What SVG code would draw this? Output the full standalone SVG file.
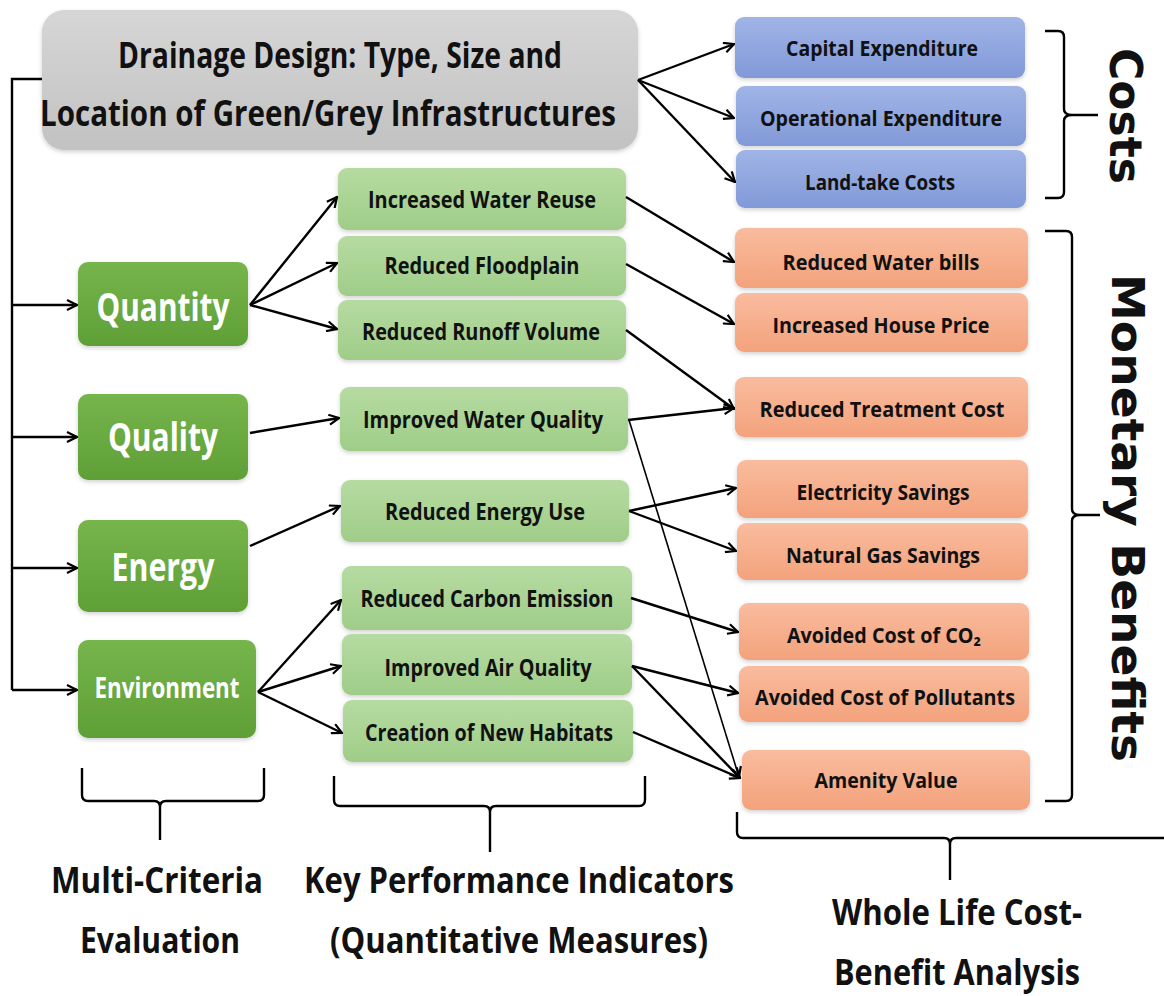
<svg xmlns="http://www.w3.org/2000/svg" width="1164" height="996" viewBox="0 0 1164 996">
<defs>
<linearGradient id="gGray" x1="0" y1="0" x2="0" y2="1"><stop offset="0" stop-color="#d6d6d6"/><stop offset="1" stop-color="#c2c2c2"/></linearGradient>
<linearGradient id="gDark" x1="0" y1="0" x2="0" y2="1"><stop offset="0" stop-color="#76b54c"/><stop offset="1" stop-color="#5f9f36"/></linearGradient>
<linearGradient id="gLight" x1="0" y1="0" x2="0" y2="1"><stop offset="0" stop-color="#b6dba2"/><stop offset="1" stop-color="#9fcd88"/></linearGradient>
<linearGradient id="gBlue" x1="0" y1="0" x2="0" y2="1"><stop offset="0" stop-color="#a0b4e6"/><stop offset="1" stop-color="#8199d8"/></linearGradient>
<linearGradient id="gOrange" x1="0" y1="0" x2="0" y2="1"><stop offset="0" stop-color="#f9bc9e"/><stop offset="1" stop-color="#f3a27c"/></linearGradient>
<filter id="sh" x="-10%" y="-10%" width="120%" height="130%"><feDropShadow dx="0" dy="2" stdDeviation="2" flood-color="#000" flood-opacity="0.18"/></filter>
<marker id="ah" viewBox="0 0 12 12" refX="11" refY="6" markerWidth="12" markerHeight="12" markerUnits="userSpaceOnUse" orient="auto">
<path d="M1,1 L11,6 L1,11" fill="none" stroke="#000" stroke-width="2.2"/>
</marker>
</defs>
<style>
text{font-family:"Open Sans","Liberation Sans",sans-serif;font-weight:bold;text-anchor:middle;fill:#111;}
.gray{fill:url(#gGray);filter:url(#sh);}
.dark{fill:url(#gDark);filter:url(#sh);}
.light{fill:url(#gLight);filter:url(#sh);}
.blue{fill:url(#gBlue);filter:url(#sh);}
.orange{fill:url(#gOrange);filter:url(#sh);}
.big{font-size:35px;}
.crit{font-size:40px;fill:#fff;}
.kpi{font-size:23px;}
.out{font-size:22px;}
.lab{font-size:36px;}
.side{font-family:"DejaVu Sans",sans-serif;font-size:44px;}
.conn path,.conn line{fill:none;stroke:#000;stroke-width:2.4;}
.conn .thin{stroke-width:1.6;}
.arr{marker-end:url(#ah);}
.brace{fill:none;stroke:#000;stroke-width:2.4;}
</style>

<g id="drainage-design">
<rect class="gray" x="42" y="10" width="596" height="140" rx="22"/>
<text class="big" x="340" y="68" textLength="444" lengthAdjust="spacingAndGlyphs">Drainage Design: Type, Size and</text>
<text class="big" x="328" y="126" textLength="576" lengthAdjust="spacingAndGlyphs">Location of Green/Grey Infrastructures</text>
</g>

<g id="quantity"><rect class="dark" x="78" y="262" width="170" height="84" rx="10"/><text class="crit" x="163" y="321" textLength="133" lengthAdjust="spacingAndGlyphs">Quantity</text></g>
<g id="quality"><rect class="dark" x="78" y="394" width="170" height="86" rx="10"/><text class="crit" x="163" y="451" textLength="110" lengthAdjust="spacingAndGlyphs">Quality</text></g>
<g id="energy"><rect class="dark" x="78" y="520" width="170" height="92" rx="10"/><text class="crit" x="163" y="581" textLength="103" lengthAdjust="spacingAndGlyphs">Energy</text></g>
<g id="environment"><rect class="dark" x="78" y="640" width="178" height="98" rx="10"/><text class="crit" style="font-size:28px" x="167" y="698" textLength="145" lengthAdjust="spacingAndGlyphs">Environment</text></g>

<g id="kpi-water-reuse"><rect class="light" x="338" y="168" width="288" height="62" rx="9"/><text class="kpi" x="482" y="208" textLength="228" lengthAdjust="spacingAndGlyphs">Increased Water Reuse</text></g>
<g id="kpi-floodplain"><rect class="light" x="338" y="236" width="288" height="60" rx="9"/><text class="kpi" x="482" y="274" textLength="195" lengthAdjust="spacingAndGlyphs">Reduced Floodplain</text></g>
<g id="kpi-runoff"><rect class="light" x="338" y="300" width="288" height="60" rx="9"/><text class="kpi" x="481" y="340" textLength="238" lengthAdjust="spacingAndGlyphs">Reduced Runoff Volume</text></g>
<g id="kpi-water-quality"><rect class="light" x="340" y="387" width="288" height="64" rx="9"/><text class="kpi" x="483" y="428" textLength="240" lengthAdjust="spacingAndGlyphs">Improved Water Quality</text></g>
<g id="kpi-energy"><rect class="light" x="341" y="480" width="288" height="62" rx="9"/><text class="kpi" x="485" y="520" textLength="200" lengthAdjust="spacingAndGlyphs">Reduced Energy Use</text></g>
<g id="kpi-carbon"><rect class="light" x="342" y="566" width="290" height="64" rx="9"/><text class="kpi" x="487" y="607" textLength="253" lengthAdjust="spacingAndGlyphs">Reduced Carbon Emission</text></g>
<g id="kpi-air"><rect class="light" x="342" y="634" width="290" height="61" rx="9"/><text class="kpi" x="488" y="676" textLength="207" lengthAdjust="spacingAndGlyphs">Improved Air Quality</text></g>
<g id="kpi-habitats"><rect class="light" x="343" y="700" width="290" height="62" rx="9"/><text class="kpi" x="489" y="741" textLength="248" lengthAdjust="spacingAndGlyphs">Creation of New Habitats</text></g>

<g id="cost-capex"><rect class="blue" x="735" y="17" width="290" height="61" rx="9"/><text class="out" x="882" y="56" textLength="192" lengthAdjust="spacingAndGlyphs">Capital Expenditure</text></g>
<g id="cost-opex"><rect class="blue" x="736" y="86" width="290" height="60" rx="9"/><text class="out" x="881" y="126" textLength="242" lengthAdjust="spacingAndGlyphs">Operational Expenditure</text></g>
<g id="cost-land"><rect class="blue" x="736" y="150" width="290" height="58" rx="9"/><text class="out" x="880" y="190" textLength="150" lengthAdjust="spacingAndGlyphs">Land-take Costs</text></g>

<g id="ben-water-bills"><rect class="orange" x="735" y="228" width="293" height="60" rx="9"/><text class="out" x="881" y="270" textLength="197" lengthAdjust="spacingAndGlyphs">Reduced Water bills</text></g>
<g id="ben-house-price"><rect class="orange" x="735" y="293" width="293" height="59" rx="9"/><text class="out" x="881" y="333" textLength="217" lengthAdjust="spacingAndGlyphs">Increased House Price</text></g>
<g id="ben-treatment"><rect class="orange" x="735" y="377" width="293" height="60" rx="9"/><text class="out" x="882" y="417" textLength="245" lengthAdjust="spacingAndGlyphs">Reduced Treatment Cost</text></g>
<g id="ben-electricity"><rect class="orange" x="737" y="460" width="291" height="58" rx="9"/><text class="out" x="883" y="500" textLength="173" lengthAdjust="spacingAndGlyphs">Electricity Savings</text></g>
<g id="ben-gas"><rect class="orange" x="737" y="523" width="291" height="57" rx="9"/><text class="out" x="883" y="563" textLength="194" lengthAdjust="spacingAndGlyphs">Natural Gas Savings</text></g>
<g id="ben-co2"><rect class="orange" x="739" y="603" width="290" height="57" rx="9"/><text class="out" x="884" y="643" textLength="194" lengthAdjust="spacingAndGlyphs">Avoided Cost of CO₂</text></g>
<g id="ben-pollutants"><rect class="orange" x="739" y="666" width="290" height="56" rx="9"/><text class="out" x="885" y="705" textLength="260" lengthAdjust="spacingAndGlyphs">Avoided Cost of Pollutants</text></g>
<g id="ben-amenity"><rect class="orange" x="742" y="750" width="288" height="60" rx="9"/><text class="out" x="886" y="788" textLength="143" lengthAdjust="spacingAndGlyphs">Amenity Value</text></g>

<g id="connectors" class="conn">
<path d="M42,79 H12 V690"/>
<line class="arr" x1="12" y1="305" x2="77" y2="305"/>
<line class="arr" x1="12" y1="437" x2="77" y2="437"/>
<line class="arr" x1="12" y1="568" x2="77" y2="568"/>
<line class="arr" x1="12" y1="690" x2="77" y2="690"/>
<line class="arr" x1="638" y1="80" x2="734" y2="44"/>
<line class="arr" x1="638" y1="80" x2="734" y2="118"/>
<line class="arr" x1="638" y1="80" x2="735" y2="182"/>
<line class="arr" x1="250" y1="305" x2="337" y2="197"/>
<line class="arr" x1="250" y1="305" x2="337" y2="263"/>
<line class="arr" x1="250" y1="305" x2="337" y2="329"/>
<line class="arr" x1="250" y1="433" x2="339" y2="418"/>
<line class="arr" x1="250" y1="546" x2="340" y2="506"/>
<line class="arr" x1="258" y1="692" x2="341" y2="600"/>
<line class="arr" x1="258" y1="692" x2="341" y2="666"/>
<line class="arr" x1="258" y1="692" x2="342" y2="733"/>
<line class="arr" x1="626" y1="197" x2="734" y2="262"/>
<line class="arr" x1="626" y1="264" x2="734" y2="324"/>
<line class="arr" x1="626" y1="330" x2="734" y2="409"/>
<line class="arr" x1="628" y1="420" x2="734" y2="408"/>
<line class="arr thin" x1="629" y1="420" x2="739" y2="777"/>
<line class="arr" x1="629" y1="511" x2="736" y2="488"/>
<line class="arr" x1="629" y1="511" x2="736" y2="551"/>
<line class="arr" x1="631" y1="598" x2="738" y2="632"/>
<line class="arr" x1="632" y1="666" x2="738" y2="693"/>
<line class="arr" x1="632" y1="666" x2="740" y2="778"/>
<line class="arr" x1="633" y1="732" x2="740" y2="778"/>
</g>

<g id="brace-costs"><path class="brace" d="M1045,31 H1058 Q1064,31 1064,37 V109 Q1064,115 1072,115 H1098 M1072,115 Q1064,115 1064,121 V192 Q1064,198 1058,198 H1045"/></g>
<text id="label-costs" class="side" transform="translate(1110,116) rotate(90)" textLength="136" lengthAdjust="spacingAndGlyphs">Costs</text>

<g id="brace-benefits"><path class="brace" d="M1045,231 H1066 Q1072,231 1072,237 V509 Q1072,515 1080,515 H1100 M1080,515 Q1072,515 1072,521 V795 Q1072,801 1066,801 H1045"/></g>
<text id="label-benefits" class="side" transform="translate(1112,518) rotate(90)" textLength="488" lengthAdjust="spacingAndGlyphs">Monetary Benefits</text>

<g id="brace-mce"><path class="brace" d="M82,768 V795 Q82,801 88,801 H154 Q160,801 160,807 V840 M160,807 Q160,801 166,801 H258 Q264,801 264,795 V768"/></g>
<g id="brace-kpi"><path class="brace" d="M334,776 V800 Q334,806 340,806 H484 Q490,806 490,812 V852 M490,812 Q490,806 496,806 H639 Q645,806 645,800 V776"/></g>
<g id="brace-wlcba"><path class="brace" d="M737,812 V832 Q737,838 743,838 H944 Q950,838 950,844 V880 M950,844 Q950,838 956,838 H1164"/></g>

<g id="label-mce">
<text class="lab" x="157" y="893" textLength="212" lengthAdjust="spacingAndGlyphs">Multi-Criteria</text>
<text class="lab" x="160" y="953" textLength="160" lengthAdjust="spacingAndGlyphs">Evaluation</text>
</g>
<g id="label-kpi">
<text class="lab" x="519" y="893" textLength="430" lengthAdjust="spacingAndGlyphs">Key Performance Indicators</text>
<text class="lab" x="519" y="953" textLength="378" lengthAdjust="spacingAndGlyphs">(Quantitative Measures)</text>
</g>
<g id="label-wlcba">
<text class="lab" x="957" y="925" textLength="250" lengthAdjust="spacingAndGlyphs">Whole Life Cost-</text>
<text class="lab" x="957" y="985" textLength="246" lengthAdjust="spacingAndGlyphs">Benefit Analysis</text>
</g>
</svg>
